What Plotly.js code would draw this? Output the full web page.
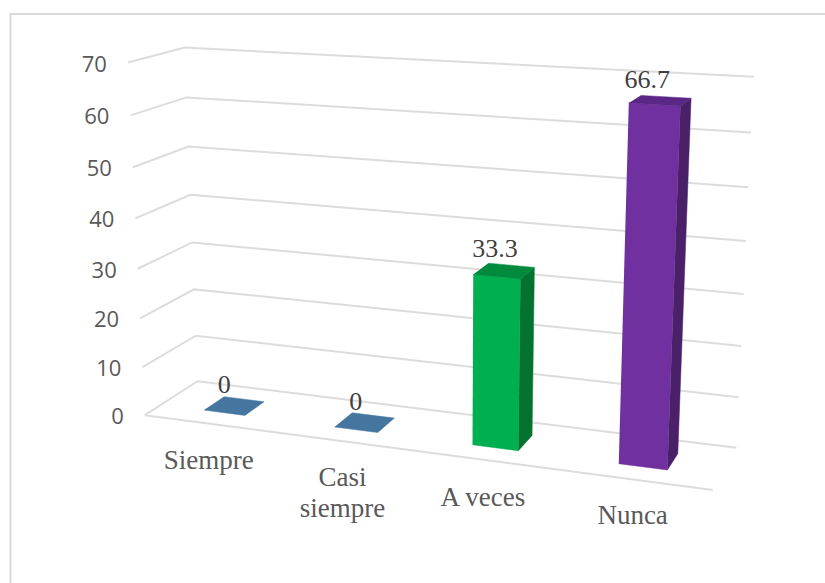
<!DOCTYPE html>
<html><head><meta charset="utf-8">
<script src="https://cdn.plot.ly/plotly-3.0.1.min.js"></script>
<style>html,body{margin:0;background:#fff}#chart{width:825px;height:583px}</style>
</head><body><div id="chart"></div>
<script>
// Answer shares per category
const categories = ['Siempre', 'Casi|siempre', 'A veces', 'Nunca'];
const values = [0, 0, 33.3, 66.7];
const valueLabels = ['0', '0', '33.3', '66.7'];
const valueTicks = [0, 10, 20, 30, 40, 50, 60, 70];
const frontColors = ['#5B9BD5', '#5B9BD5', '#00B050', '#7030A0'];
const sideColors = ['#2F5F8A', '#2F5F8A', '#03732F', '#4A2068'];
const topColors = ['#44769F', '#44769F', '#008A3E', '#5A2786'];

// Bar footprint inside each category slot and inside the floor depth
const BAR_HALF_WIDTH = 0.04, BAR_DEPTH = [0.3, 0.69];
const VALUE_MAX = 70;
// Screen offsets of the category labels below the front floor edge
const categoryShift = [[0, 39], [0, 38], [-1, 39], [-1.5, 38]];
const CATEGORY_LINE_STEP = 31;
// Screen offsets of the value labels above each column top
const valueShift = [[-10, -19], [-9, -19], [-9, -20], [-13, -19]];

// Reference points of the walls and floor: [u across, value, d depth, screen x, screen y]
const wallPoints = [
  [0,0,0,145,415],[1,0,0,713,490],
  [0,10,0,142,367],[0,20,0,140,318],[0,30,0,138,269],[0,40,0,136,218],[0,50,0,133,167.5],[0,60,0,130,116],[0,70,0,127.5,62.5],
  [0,0,1,197,382],[0,10,1,196,335.5],[0,20,1,194,289.5],[0,30,1,192.5,242],[0,40,1,191,194.5],[0,50,1,188,146.5],[0,60,1,186.5,97.5],[0,70,1,184.5,47.5],
  [1,0,1,736.5,448],[1,10,1,738.5,397],[1,20,1,741,346],[1,30,1,743,294],[1,40,1,746,241],[1,50,1,748.5,187],[1,60,1,751,132.5],[1,70,1,754,77]
];

// Gaussian elimination with partial pivoting
function solve(A, b) {
  const n = b.length;
  for (let i = 0; i < n; i++) {
    let p = i;
    for (let r = i + 1; r < n; r++) if (Math.abs(A[r][i]) > Math.abs(A[p][i])) p = r;
    [A[i], A[p]] = [A[p], A[i]]; [b[i], b[p]] = [b[p], b[i]];
    for (let r = i + 1; r < n; r++) {
      const f = A[r][i] / A[i][i];
      for (let c = i; c < n; c++) A[r][c] -= f * A[i][c];
      b[r] -= f * b[i];
    }
  }
  const x = new Array(n).fill(0);
  for (let i = n - 1; i >= 0; i--) {
    let s = b[i];
    for (let c = i + 1; c < n; c++) s -= A[i][c] * x[c];
    x[i] = s / A[i][i];
  }
  return x;
}

// Least-squares perspective camera for the 3-D look
function fitCamera() {
  const n = 11, N = Array.from({length: n}, () => new Array(n).fill(0)), B = new Array(n).fill(0);
  const add = (r, t) => { for (let i = 0; i < n; i++) { B[i] += r[i] * t; for (let j = 0; j < n; j++) N[i][j] += r[i] * r[j]; } };
  wallPoints.forEach(([u, val, d, X, Y]) => {
    const v = val / VALUE_MAX, x = X / 1000, y = Y / 1000;
    add([u, v, d, 1, 0, 0, 0, 0, -x * u, -x * v, -x * d], x);
    add([0, 0, 0, 0, u, v, d, 1, -y * u, -y * v, -y * d], y);
  });
  return solve(N, B);
}
const cam = fitCamera();
function project(u, value, d) {
  const v = value / VALUE_MAX;
  const w = cam[8] * u + cam[9] * v + cam[10] * d + 1;
  return [1000 * (cam[0] * u + cam[1] * v + cam[2] * d + cam[3]) / w,
          1000 * (cam[4] * u + cam[5] * v + cam[6] * d + cam[7]) / w];
}

const traces = [];
const addLine = (pts, color, width) => traces.push({
  type: 'scatter', mode: 'lines', x: pts.map(p => p[0]), y: pts.map(p => p[1]),
  line: {color, width}, hoverinfo: 'skip'
});
const addFace = (pts, color, name) => traces.push({
  type: 'scatter', mode: 'lines', name, fill: 'toself', fillcolor: color,
  x: pts.map(p => p[0]), y: pts.map(p => p[1]), line: {color, width: 0.5}, hoverinfo: 'skip'
});
const addText = (x, y, text, position, family, size, color) => traces.push({
  type: 'scatter', mode: 'text', x: [x], y: [y], text: [text], textposition: position,
  textfont: {family, size, color}, hoverinfo: 'skip'
});

// Outer chart frame
addLine([[10.5, 583], [10.5, 14], [825, 14]], '#d9d9d9', 2);

// Gridlines on the side wall and the back wall, plus the front floor edge
valueTicks.forEach(t => addLine([project(0, t, 0), project(0, t, 1), project(1, t, 1)], '#dcdcdc', 2));
addLine([project(0, 0, 0), project(1, 0, 0)], '#dcdcdc', 2);

// Three visible faces of each column
values.forEach((val, i) => {
  const c = (i + 0.5) / categories.length;
  const u0 = c - BAR_HALF_WIDTH, u1 = c + BAR_HALF_WIDTH, [d0, d1] = BAR_DEPTH;
  if (val > 0) {
    addFace([project(u0, 0, d0), project(u1, 0, d0), project(u1, val, d0), project(u0, val, d0)], frontColors[i], categories[i]);
    addFace([project(u1, 0, d0), project(u1, 0, d1), project(u1, val, d1), project(u1, val, d0)], sideColors[i], categories[i]);
  }
  addFace([project(u0, val, d0), project(u1, val, d0), project(u1, val, d1), project(u0, val, d1)], topColors[i], categories[i]);
});

// Value axis labels
valueTicks.forEach(t => {
  const p = project(0, t, 0);
  addText(p[0] - 21, p[1] + 3.5, String(t), 'middle left', '"Open Sans", sans-serif', 22, '#595959');
});

// Category labels
categories.forEach((name, i) => {
  const p = project((i + 0.5) / categories.length, 0, 0);
  name.split('|').forEach((line, k) => {
    addText(p[0] + categoryShift[i][0], p[1] + categoryShift[i][1] + k * CATEGORY_LINE_STEP, line,
      'middle center', '"Liberation Serif", serif', 27, '#595959');
  });
});

// Value labels above each column
values.forEach((val, i) => {
  const p = project((i + 0.5) / categories.length, val, (BAR_DEPTH[0] + BAR_DEPTH[1]) / 2);
  addText(p[0] + valueShift[i][0], p[1] + valueShift[i][1], valueLabels[i], 'middle center', '"Liberation Serif", serif', 26, '#404040');
});

Plotly.newPlot('chart', traces, {
  width: 825, height: 583, margin: {l: 0, r: 0, t: 0, b: 0}, showlegend: false,
  paper_bgcolor: '#fff', plot_bgcolor: '#fff',
  xaxis: {range: [0, 825], visible: false, fixedrange: true},
  yaxis: {range: [583, 0], visible: false, fixedrange: true}
}, {staticPlot: true});
</script></body></html>
